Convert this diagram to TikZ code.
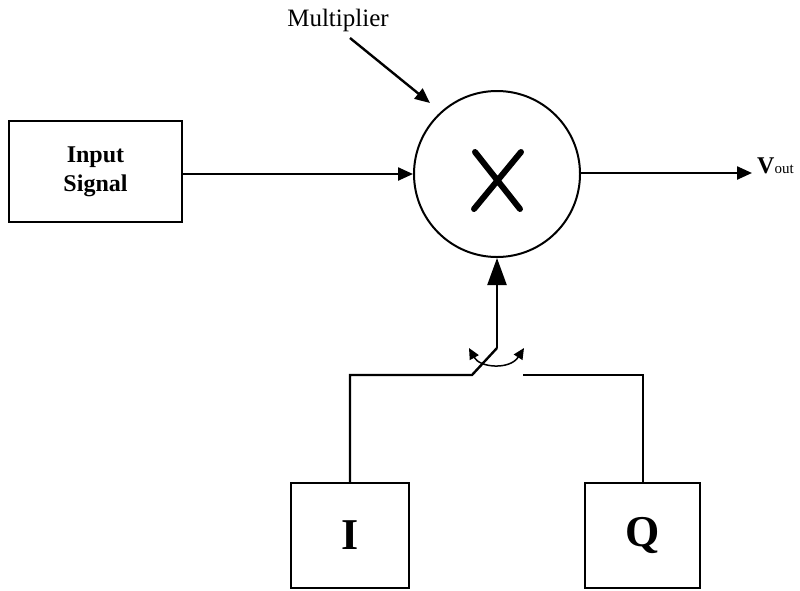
\documentclass[tikz,border=0pt]{standalone}
\usepackage{fontspec}
\setmainfont{Liberation Serif}
\setsansfont{Liberation Sans}
\usetikzlibrary{arrows.meta}
\begin{document}
\begin{tikzpicture}[x=1pt,y=-1pt,
  line/.style={line width=2.4pt},
  blk/.style={draw,line width=2.4pt,minimum width=#1,inner sep=0pt},
  tip/.style={-{Triangle[length=15pt,width=13pt]}},
  bigtip/.style={-{Triangle[length=27pt,width=19pt]}},
  smalltip/.style={{Triangle[length=11pt,width=10pt]}-{Triangle[length=11pt,width=10pt]}}]
\useasboundingbox (0,0) rectangle (800,590);
\fill[white] (0,0) rectangle (800,590);
% blocks
\node[blk=173pt,minimum height=101pt,align=center,font=\fontsize{24}{29}\selectfont\bfseries] (inp) at (95.5,171.5) {Input\\Signal};
\node[draw,circle,line width=2pt,minimum size=166pt,inner sep=0pt] (mul) at (497,174) {};
\node[blk=118pt,minimum height=105pt,font=\fontsize{44}{44}\selectfont\bfseries] (I) at (350,535.5) {I};
\node[blk=115pt,minimum height=105pt,font=\fontsize{44}{44}\selectfont\bfseries] (Q) at (642.5,535.5) {Q};
% X symbol
\draw[line width=6pt,line cap=round] (475,152) -- (520,209) (521,152) -- (474,209);
% labels
\node[font=\fontsize{25}{25}\selectfont,anchor=base] (mlab) at (338,26) {Multiplier};
\node[anchor=base west,inner sep=0pt] (vout) at (757,173) {{\fontsize{24}{24}\selectfont\bfseries V}{\fontsize{15}{15}\selectfont out}};
\coordinate (ma) at (350,38);
\coordinate (mb) at (430,103);
\draw[line,tip] (ma) -- (mb);
% connectors
\draw[line,tip] (inp.east |- 0,174) -- (mul.west);
\coordinate (outend) at (752,173);
\draw[line,tip] (mul.east |- 0,173) -- (outend);
% switch
\coordinate (sw) at (497,348);
\coordinate (swl) at (472,375);
\coordinate (swr) at (523,375);
\draw[line,bigtip] (sw) -- (mul.south);
\draw[line] (sw) -- (swl) -- (350,375) -- (I.north -| 350,0);
\draw[line] (swr) -- (643,375) -- (Q.north -| 643,0);
\coordinate (al) at (469,348);
\coordinate (ar) at (524,348);
\draw[line width=1.5pt,smalltip] (al) .. controls (480,368) and (510,370) .. (ar);
\end{tikzpicture}
\end{document}
